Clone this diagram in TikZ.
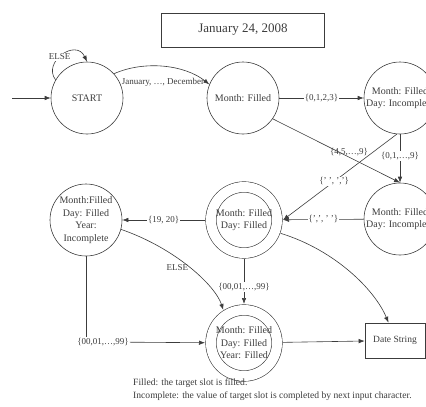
\documentclass[tikz,border=0pt]{standalone}
\usepackage{fontspec}
\setmainfont{Liberation Serif}
\usetikzlibrary{arrows.meta}
\definecolor{inkgray}{RGB}{60,60,60}

\begin{document}
\begin{tikzpicture}[x=1pt, y=-1pt,
    state/.style={circle, draw=inkgray, semithick, minimum size=72pt, inner sep=0pt,
        font=\fontsize{10}{12.5}\selectfont, align=center, text=inkgray},
    final/.style={state, minimum size=66pt, double, double distance=10pt, outer sep=6pt},
    box/.style={rectangle, draw=inkgray, semithick, align=center, text=inkgray},
    arrow/.style={-{Latex[length=6pt, width=4.5pt]}, semithick, inkgray},
    edgelabel/.style={font=\fontsize{9}{11}\selectfont, text=inkgray, fill=white, inner sep=1pt}
]
\clip (0,0) rectangle (426,407);

\node[box, minimum width=163pt, minimum height=34pt, font=\fontsize{13}{15}\selectfont]
    (title) at (243,30) {January 24, 2008};

\node[state] (start) at (87,98) {START};
\node[state] (mon) at (243,98) {Month: Filled};
\node[state] (mdinc1) at (400,98) {Month: Filled\\Day: Incomplete};
\node[state] (mdinc2) at (400,219) {Month: Filled\\Day: Incomplete};
\node[final] (md) at (244,220) {Month: Filled\\Day: Filled};
\node[state] (mdyinc) at (86,220) {Month:Filled\\Day: Filled\\Year:\\Incomplete};
\node[final] (mdy) at (244,343) {Month: Filled\\Day: Filled\\Year: Filled};
\node[box, minimum width=60pt, minimum height=35pt, font=\fontsize{9.5}{11}\selectfont]
    (datestr) at (395,340.5) {Date String};
\node[edgelabel] (yrlbl) at (103,342) {\{00,01,\ldots,99\}};
\node[anchor=north west, align=left, text=inkgray, inner sep=0pt,
    font=\fontsize{9.6}{13}\selectfont] (legend) at (133,378.5)
    {Filled: the target slot is filled.\\
     Incomplete: the value of target slot is completed by next input character.};

\coordinate (entry) at (12,98);

\draw[arrow] (entry) -- (start);
\draw[arrow] (start.150) .. controls (42,62) and (76,38) .. node[edgelabel, pos=0.45] {ELSE} (start.north);
\draw[arrow] (start.42) .. controls (145,60) and (185,65) .. (mon.158);
\node[edgelabel, fill=none] (janlbl) at (163,82) {January, \ldots, December};
\draw[arrow] (mon) -- node[edgelabel] {\{0,1,2,3\}} (mdinc1);
\draw[arrow] (mon.-35) -- node[edgelabel, fill=none, above, pos=0.6] {\{4,5,\ldots,9\}} (mdinc2.north);
\draw[arrow] (mdinc1) -- node[edgelabel, pos=0.45] {\{0,1,\ldots,9\}} (mdinc2);
\draw[arrow] (mdinc1.-95) -- node[edgelabel, pos=0.55] {\{' ', ','\}} (md.east);
\draw[arrow] (mdinc2) -- node[edgelabel] {\{',', ' '\}} (md);
\draw[arrow] (md) -- node[edgelabel] {\{19, 20\}} (mdyinc);
\draw[arrow] (mdyinc.-15) .. controls (175,248) and (215,285) .. node[edgelabel, fill=none, left, pos=0.5] {ELSE} (mdy.122);
\draw[arrow] (md) -- node[edgelabel, pos=0.62] {\{00,01,\ldots,99\}} (mdy);
\draw[semithick, inkgray] (mdyinc) -- (mdyinc |- yrlbl.north);
\draw[arrow] (yrlbl) -- (mdy);
\draw[arrow] (md.-20) .. controls (335,250) and (375,290) .. (datestr.110);
\draw[arrow] (mdy) -- (datestr);

\end{tikzpicture}
\end{document}
